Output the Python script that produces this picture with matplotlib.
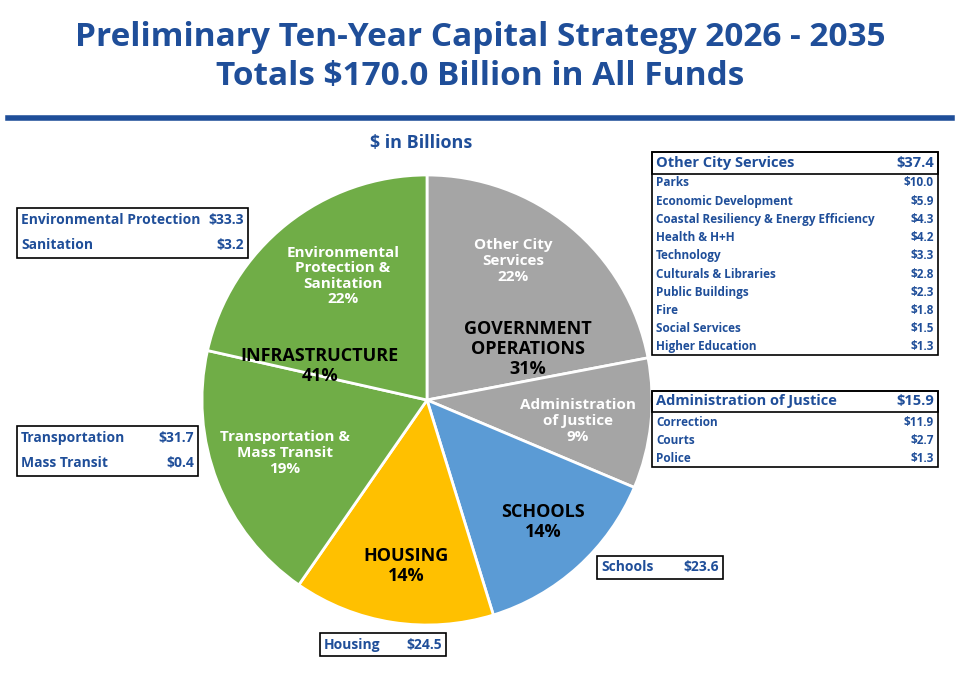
import matplotlib
matplotlib.use("Agg")
import matplotlib.pyplot as plt
from matplotlib.patches import Rectangle

# slice data, clockwise from 12 o'clock
slices = ["Other City Services", "Administration of Justice", "Schools", "Housing",
          "Transportation & Mass Transit", "Environmental Protection & Sanitation"]
values = [37.4, 15.9, 23.6, 24.5, 32.1, 36.5]
colors = ["#A5A5A5", "#A5A5A5", "#5B9BD5", "#FFC000", "#70AD47", "#70AD47"]

ocs_items = ["Parks", "Economic Development", "Coastal Resiliency & Energy Efficiency",
             "Health & H+H", "Technology", "Culturals & Libraries", "Public Buildings",
             "Fire", "Social Services", "Higher Education"]
ocs_vals = [10.0, 5.9, 4.3, 4.2, 3.3, 2.8, 2.3, 1.8, 1.5, 1.3]
aoj_items = ["Correction", "Courts", "Police"]
aoj_vals = [11.9, 2.7, 1.3]
env_items = ["Environmental Protection", "Sanitation"]
env_vals = [33.3, 3.2]
trn_items = ["Transportation", "Mass Transit"]
trn_vals = [31.7, 0.4]

NAVY = "#1F4E99"
plt.rcParams["font.family"] = "Open Sans"

fig = plt.figure(figsize=(9.6, 6.75), dpi=100)

# pie on its own axes in pixel space (y up)
pax = fig.add_axes([0, 0, 1, 1])
pax.pie(values, colors=colors, startangle=90, counterclock=False, center=(427, 275),
        radius=225, wedgeprops=dict(edgecolor="white", linewidth=2), frame=False)
pax.set_aspect("auto")
pax.set_xlim(0, 960)
pax.set_ylim(0, 675)
pax.axis("off")

ax = fig.add_axes([0, 0, 1, 1])
ax.set_xlim(0, 960)
ax.set_ylim(675, 0)
ax.axis("off")

ax.text(480, 37, "Preliminary Ten-Year Capital Strategy 2026 - 2035", ha="center", va="center",
        fontsize=24, fontweight="bold", color=NAVY)
ax.text(480, 77, "Totals $170.0 Billion in All Funds", ha="center", va="center",
        fontsize=24, fontweight="bold", color=NAVY)
ax.plot([8, 952], [118, 118], color=NAVY, lw=4)
ax.text(421, 143, "$ in Billions", ha="center", va="center", fontsize=13,
        fontweight="bold", color=NAVY)

def lab(x, y, s, size, c="white"):
    ax.text(x, y, s, ha="center", va="center", fontsize=size, fontweight="bold",
            color=c, linespacing=1.15)

lab(513, 261, "Other City\nServices\n22%", 11)
lab(578, 421, "Administration\nof Justice\n9%", 11)
lab(343, 276, "Environmental\nProtection &\nSanitation\n22%", 11)
lab(285, 453, "Transportation &\nMass Transit\n19%", 11)
lab(320, 366, "INFRASTRUCTURE\n41%", 13, "black")
lab(528, 349, "GOVERNMENT\nOPERATIONS\n31%", 13, "black")
lab(543, 522, "SCHOOLS\n14%", 13, "black")
lab(406, 566, "HOUSING\n14%", 13, "black")

def box(x0, x1, y0, y1, lw=1.2):
    ax.add_patch(Rectangle((x0, y0), x1 - x0, y1 - y0, fill=False, edgecolor="black", lw=lw))

def rows(x0, x1, ytop, step, names, vals, size):
    for i, (n, v) in enumerate(zip(names, vals)):
        y = ytop + i * step
        ax.text(x0 + 4, y, n, ha="left", va="center", fontsize=size, fontweight="bold", color=NAVY)
        ax.text(x1 - 4, y, f"${v:.1f}", ha="right", va="center", fontsize=size,
                fontweight="bold", color=NAVY)

# Other City Services
box(652, 938, 152, 355)
box(652, 938, 152, 174)
rows(652, 938, 163, 0, ["Other City Services"], [37.4], 10.5)
rows(652, 938, 183, 18.2, ocs_items, ocs_vals, 8.5)
# Administration of Justice
box(652, 938, 391, 467)
box(652, 938, 391, 412)
rows(652, 938, 401, 0, ["Administration of Justice"], [15.9], 10.5)
rows(652, 938, 422, 18.5, aoj_items, aoj_vals, 8.5)
# Infrastructure boxes
box(17, 248, 208, 258)
rows(17, 248, 220, 25, env_items, env_vals, 10)
box(17, 198, 426, 476)
rows(17, 198, 438, 25, trn_items, trn_vals, 10)
# Schools & Housing
box(597, 723, 556, 579)
rows(597, 723, 567, 0, ["Schools"], [23.6], 10)
box(320, 446, 633, 656)
rows(320, 446, 645, 0, ["Housing"], [24.5], 10)

fig.savefig("out.png", dpi=100)
